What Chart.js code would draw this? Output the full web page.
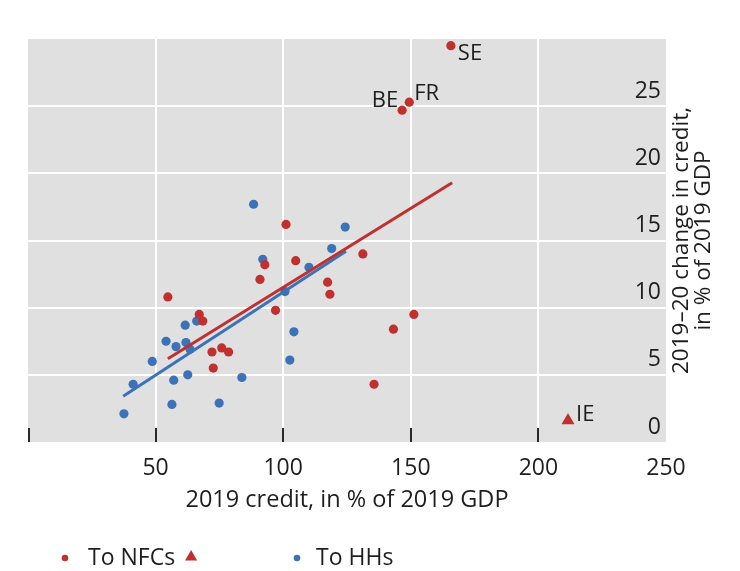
<!DOCTYPE html>
<html>
<head>
<meta charset="utf-8">
<script src="https://cdn.jsdelivr.net/npm/chart.js@4/dist/chart.umd.min.js"></script>
<style>
  html, body { margin: 0; padding: 0; background: #ffffff; }
  #wrap { width: 740px; height: 571px; }
</style>
</head>
<body>
<div id="wrap"><canvas id="chart" width="740" height="571"></canvas></div>
<script>
// 2019 credit (% of 2019 GDP) and 2019–20 change in credit (% of 2019 GDP)
const hhCredit = [88.4, 124.3, 119.0, 92.0, 110.1, 100.7, 104.2, 102.6, 61.6, 66.1, 54.1,
                  58.0, 61.9, 63.5, 48.7, 41.2, 57.1, 62.6, 83.8, 56.4, 74.9, 37.6];
const hhChange = [17.7, 16.0, 14.4, 13.6, 13.0, 11.2, 8.2, 6.1, 8.7, 9.0, 7.5,
                  7.1, 7.4, 6.9, 6.0, 4.3, 4.6, 5.0, 4.8, 2.8, 2.9, 2.1];

const nfcCredit = [101.1, 104.9, 92.8, 131.2, 90.9, 117.4, 118.3, 54.8, 97.0, 67.1, 68.5,
                   143.2, 151.2, 72.1, 75.9, 78.6, 72.6, 135.6, 165.7, 149.4, 146.6];
const nfcChange = [16.2, 13.5, 13.2, 14.0, 12.1, 11.9, 11.0, 10.8, 9.8, 9.5, 9.0,
                   8.4, 9.5, 6.7, 7.0, 6.7, 5.5, 4.3, 29.5, 25.3, 24.7];
const nfcCodes  = ['', '', '', '', '', '', '', '', '', '', '',
                   '', '', '', '', '', '', '', 'SE', 'FR', 'BE'];

// Outlier shown with a separate marker
const ieCredit = [211.6];
const ieChange = [1.6];
const ieCodes  = ['IE'];

// Fitted lines: [start, end]
const nfcFitCredit = [54.8, 166.2];
const nfcFitChange = [6.2, 19.3];
const hhFitCredit  = [37.3, 124.6];
const hhFitChange  = [3.4, 14.2];

// Axis ticks
const xTicks = [0, 50, 100, 150, 200, 250];
const yTicks = [0, 5, 10, 15, 20, 25, 30];

const legendLabels = ['To NFCs', 'To HHs'];
const xTitle = '2019 credit, in % of 2019 GDP';
const yTitleLines = ['2019\u201320 change in credit,', 'in % of 2019 GDP'];

const RED = '#c0302f';
const BLUE = '#3c72b8';
const TEXT = '#1e1e1e';
const FONT = "'Open Sans', 'Noto Sans', sans-serif";
const FS = 23;

const pts = (xs, ys) => xs.map((x, i) => ({ x, y: ys[i] }));

// Country codes next to their points
const codePlacement = {
  SE: { dx: 7, dy: 8, align: 'left' },
  FR: { dx: 5, dy: -8, align: 'left' },
  BE: { dx: -4, dy: -9, align: 'right' },
  IE: { dx: 8, dy: -6, align: 'left' }
};

const plotBackground = {
  id: 'plotBackground',
  beforeDraw(chart) {
    const { ctx, chartArea: a } = chart;
    ctx.save();
    ctx.fillStyle = '#e0e0e0';
    ctx.fillRect(a.left, a.top, a.right - a.left, a.bottom - a.top);
    ctx.restore();
  }
};

const innerTickMarks = {
  id: 'innerTickMarks',
  beforeDatasetsDraw(chart) {
    const { ctx, chartArea: a, scales: { x } } = chart;
    ctx.save();
    ctx.strokeStyle = '#2a2a2a';
    ctx.lineWidth = 2;
    xTicks.filter(v => v < x.max).forEach(v => {
      const px = Math.round(x.getPixelForValue(v)) + (v === x.min ? 1 : 0);
      ctx.beginPath();
      ctx.moveTo(px, a.bottom);
      ctx.lineTo(px, a.bottom - 14);
      ctx.stroke();
    });
    ctx.restore();
  }
};

const pointCodes = {
  id: 'pointCodes',
  afterDatasetsDraw(chart) {
    const { ctx, scales: { x, y } } = chart;
    ctx.save();
    ctx.font = `22px ${FONT}`;
    ctx.fillStyle = TEXT;
    ctx.textBaseline = 'middle';
    const put = (xs, ys, codes) => codes.forEach((c, i) => {
      if (!c) return;
      const p = codePlacement[c];
      ctx.textAlign = p.align;
      ctx.fillText(c, x.getPixelForValue(xs[i]) + p.dx, y.getPixelForValue(ys[i]) + p.dy);
    });
    put(nfcCredit, nfcChange, nfcCodes);
    put(ieCredit, ieChange, ieCodes);
    ctx.restore();
  }
};

function triangle(ctx, cx, cy, r) {
  ctx.beginPath();
  ctx.moveTo(cx, cy - r);
  ctx.lineTo(cx + r * 0.866, cy + r * 0.5);
  ctx.lineTo(cx - r * 0.866, cy + r * 0.5);
  ctx.closePath();
  ctx.fill();
}

const sideTitleAndLegend = {
  id: 'sideTitleAndLegend',
  afterDraw(chart) {
    const { ctx, chartArea: a } = chart;
    ctx.save();
    // rotated title to the right of the plot
    ctx.font = `22.5px ${FONT}`;
    ctx.fillStyle = TEXT;
    ctx.textAlign = 'center';
    ctx.textBaseline = 'middle';
    const cy = (a.top + a.bottom) / 2;
    ctx.translate(682, cy);
    ctx.rotate(-Math.PI / 2);
    ctx.fillText(yTitleLines[0], 0, 0);
    ctx.fillText(yTitleLines[1], 0, 21.5);
    ctx.restore();

    // legend
    ctx.save();
    const ly = 558;
    ctx.font = `${FS}px ${FONT}`;
    ctx.textBaseline = 'middle';
    ctx.textAlign = 'left';
    ctx.fillStyle = RED;
    ctx.beginPath(); ctx.arc(65, ly, 3.3, 0, Math.PI * 2); ctx.fill();
    ctx.fillStyle = TEXT;
    ctx.fillText(legendLabels[0], 88, ly);
    const w = ctx.measureText(legendLabels[0]).width;
    ctx.fillStyle = RED;
    triangle(ctx, 88 + w + 16, ly - 1, 7);
    ctx.fillStyle = BLUE;
    ctx.beginPath(); ctx.arc(297, ly, 3.3, 0, Math.PI * 2); ctx.fill();
    ctx.fillStyle = TEXT;
    ctx.fillText(legendLabels[1], 316, ly);
    ctx.restore();
  }
};

const edgeHidden = (lo, hi) => (c) =>
  (c.tick && (c.tick.value === lo || c.tick.value === hi)) ? 'rgba(0,0,0,0)' : '#ffffff';

new Chart(document.getElementById('chart'), {
  type: 'scatter',
  data: {
    datasets: [
      {
        label: 'NFC fit',
        data: pts(nfcFitCredit, nfcFitChange),
        showLine: true,
        borderColor: RED,
        borderWidth: 3,
        pointRadius: 0,
        fill: false
      },
      {
        label: 'HH fit',
        data: pts(hhFitCredit, hhFitChange),
        showLine: true,
        borderColor: BLUE,
        borderWidth: 3,
        pointRadius: 0,
        fill: false
      },
      {
        label: 'IE',
        data: pts(ieCredit, ieChange),
        pointStyle: 'triangle',
        pointRadius: 7.5,
        backgroundColor: RED,
        borderWidth: 0
      },
      {
        label: legendLabels[0],
        data: pts(nfcCredit, nfcChange),
        pointRadius: 4.6,
        backgroundColor: RED,
        borderWidth: 0
      },
      {
        label: legendLabels[1],
        data: pts(hhCredit, hhChange),
        pointRadius: 4.6,
        backgroundColor: BLUE,
        borderWidth: 0
      }
    ]
  },
  options: {
    responsive: false,
    animation: false,
    events: [],
    layout: { padding: { top: 39, left: 28, right: 74, bottom: 54 } },
    plugins: {
      legend: { display: false },
      tooltip: { enabled: false }
    },
    scales: {
      x: {
        type: 'linear',
        min: xTicks[0],
        max: xTicks[xTicks.length - 1],
        afterBuildTicks: (s) => { s.ticks = xTicks.map(v => ({ value: v })); },
        afterFit: (s) => { s.height = 75; },
        border: { display: false },
        grid: { color: edgeHidden(0, 250), lineWidth: 2, drawTicks: false },
        ticks: {
          autoSkip: false,
          maxRotation: 0,
          padding: 15,
          color: TEXT,
          font: { family: FONT, size: FS, lineHeight: 1 },
          callback: (v) => (v === 0 ? '' : String(v))
        },
        title: {
          display: true,
          text: xTitle,
          color: TEXT,
          font: { family: FONT, size: 23.5 },
          padding: { top: 0, bottom: 3 }
        }
      },
      y: {
        type: 'linear',
        position: 'right',
        min: yTicks[0],
        max: yTicks[yTicks.length - 1],
        afterBuildTicks: (s) => { s.ticks = yTicks.map(v => ({ value: v })); },
        afterFit: (s) => { s.width = 0; },
        border: { display: false },
        grid: { color: edgeHidden(0, 30), lineWidth: 2, drawTicks: false },
        ticks: {
          mirror: true,
          padding: -5,
          labelOffset: -15,
          color: TEXT,
          font: { family: FONT, size: FS },
          callback: (v) => (v === 30 ? '' : String(v))
        }
      }
    }
  },
  plugins: [plotBackground, innerTickMarks, pointCodes, sideTitleAndLegend]
});
</script>
</body>
</html>
